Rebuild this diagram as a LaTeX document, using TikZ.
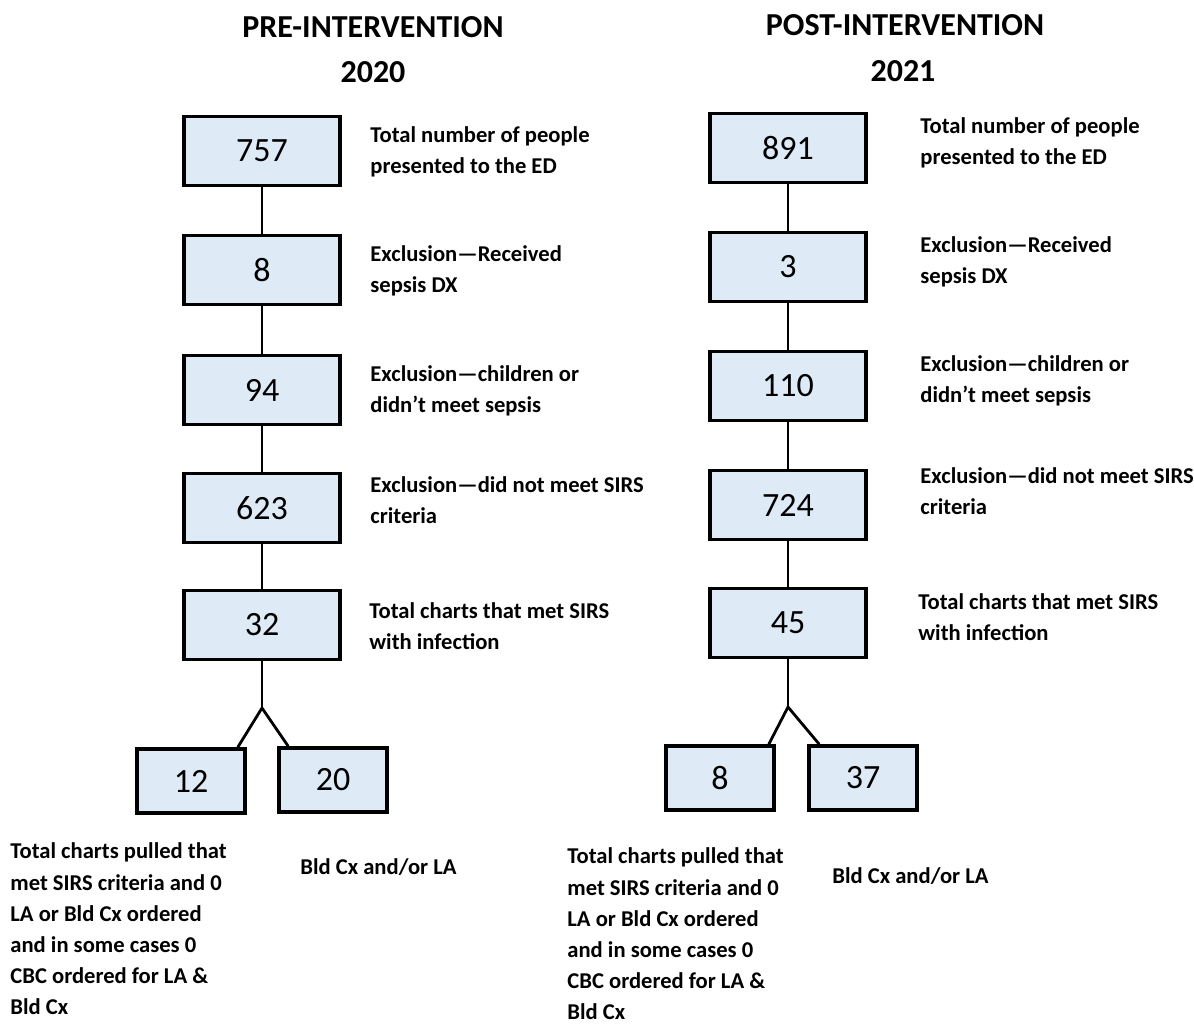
\documentclass[tikz,border=0pt]{standalone}
\usepackage{fontspec}
\setmainfont{Carlito}
\usepackage{tikz}
\usetikzlibrary{positioning}
\definecolor{boxblue}{HTML}{DEEBF7}

\begin{document}
\begin{tikzpicture}[
  x=0.5pt, y=-0.5pt,
  block/.style={rectangle, draw=black, line width=1.8pt, fill=boxblue, minimum width=78pt, minimum height=34.5pt, font=\fontsize{17}{20}\selectfont},
  leaf/.style={block, minimum width=54pt, minimum height=32pt},
  note/.style={anchor=west, align=left, inner sep=0pt, font=\bfseries\fontsize{11.3}{15.6}\selectfont},
  title/.style={font=\bfseries\fontsize{16}{19}\selectfont},
  link/.style={line width=1.4pt}
]
\useasboundingbox (0,0) rectangle (1194,1023);

% Titles
\node[title] (preT) at (373,27) {PRE-INTERVENTION};
\node[title] (preY) at (373,72) {2020};
\node[title] (postT) at (905,25) {POST-INTERVENTION};
\node[title] (postY) at (903,71) {2021};

% Pre-intervention column
\node[block] (a757) at (262,151) {757};
\node[block] (a8) at (262,270) {8};
\node[block] (a94) at (262,390) {94};
\node[block] (a623) at (262,508) {623};
\node[block] (a32) at (262,625) {32};
\coordinate (splitA) at (262,708);
\node[leaf] (a12) at (191,781) {12};
\node[leaf] (a20) at (333,780) {20};

\node[note] (aN1) at (370,152) {Total number of people\\presented to the ED};
\node[note] (aN2) at (370,271) {Exclusion—Received\\sepsis DX};
\node[note] (aN3) at (370,391) {Exclusion—children or\\didn’t meet sepsis};
\node[note] (aN4) at (370,500) {Exclusion—did not meet SIRS\\criteria};
\node[note] (aN5) at (369,626) {Total charts that met SIRS\\with infection};
\node[note] (aN6) at (10,929) {Total charts pulled that\\met SIRS criteria and 0\\LA or Bld Cx ordered\\and in some cases 0\\CBC ordered for LA \&\\Bld Cx};
\node[note] (aN7) at (300,867) {Bld Cx and/or LA};

% Post-intervention column
\node[block] (b891) at (788,148) {891};
\node[block] (b3) at (788,267) {3};
\node[block] (b110) at (788,386) {110};
\node[block] (b724) at (788,505) {724};
\node[block] (b45) at (788,623) {45};
\coordinate (splitB) at (788,707);
\node[leaf] (b8) at (720,778) {8};
\node[leaf] (b37) at (863,778) {37};

\node[note] (bN1) at (920,143) {Total number of people\\presented to the ED};
\node[note] (bN2) at (920,262) {Exclusion—Received\\sepsis DX};
\node[note] (bN3) at (920,381) {Exclusion—children or\\didn’t meet sepsis};
\node[note] (bN4) at (920,491) {Exclusion—did not meet SIRS\\criteria};
\node[note] (bN5) at (918,617) {Total charts that met SIRS\\with infection};
\node[note] (bN6) at (567,934) {Total charts pulled that\\met SIRS criteria and 0\\LA or Bld Cx ordered\\and in some cases 0\\CBC ordered for LA \&\\Bld Cx};
\node[note] (bN7) at (832,876) {Bld Cx and/or LA};

% Connectors
\draw[link] (a757) -- (a8);
\draw[link] (a8) -- (a94);
\draw[link] (a94) -- (a623);
\draw[link] (a623) -- (a32);
\draw[link] (a32) -- (splitA);
\draw[link] (splitA) -- ([xshift=-4.5pt]a12.north east);
\draw[link] (splitA) -- ([xshift=5.5pt]a20.north west);

\draw[link] (b891) -- (b3);
\draw[link] (b3) -- (b110);
\draw[link] (b110) -- (b724);
\draw[link] (b724) -- (b45);
\draw[link] (b45) -- (splitB);
\draw[link] (splitB) -- ([xshift=-3.5pt]b8.north east);
\draw[link] (splitB) -- ([xshift=6pt]b37.north west);

\end{tikzpicture}
\end{document}
